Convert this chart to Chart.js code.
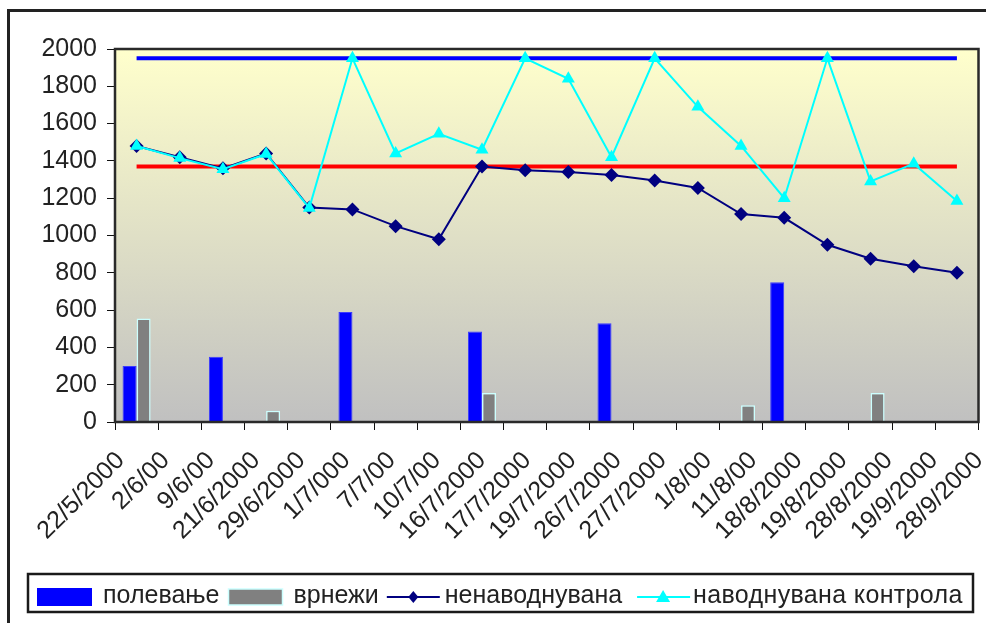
<!DOCTYPE html>
<html><head><meta charset="utf-8">
<script src="https://cdn.jsdelivr.net/npm/chart.js@4.4.0/dist/chart.umd.min.js"></script>
<style>html,body{margin:0;padding:0;background:#fff;overflow:hidden}canvas{display:block}</style>
</head><body>
<canvas id="c" width="986" height="623"></canvas>
<script>
const categories = ['22/5/2000','2/6/00','9/6/00','21/6/2000','29/6/2000','1/7/000','7/7/00','10/7/00','16/7/2000','17/7/2000','19/7/2000','26/7/2000','27/7/2000','1/8/00','11/8/00','18/8/2000','19/8/2000','28/8/2000','19/9/2000','28/9/2000'];
const polevanje = [300,null,350,null,null,590,null,null,485,null,null,530,null,null,null,750,null,null,null,null];
const vrnezhi = [555,null,null,60,null,null,null,null,155,null,null,null,null,null,90,null,null,155,null,null];
const nenavodnuvana = [1480,1420,1360,1440,1150,1140,1050,980,1370,1350,1340,1325,1295,1255,1115,1095,950,875,835,800];
const navodnuvanaKontrola = [1480,1415,1355,1437,1147,1950,1440,1545,1460,1950,1840,1420,1950,1690,1480,1200,1950,1290,1385,1185];
const upperLine = [1950,1950,1950,1950,1950,1950,1950,1950,1950,1950,1950,1950,1950,1950,1950,1950,1950,1950,1950,1950];
const lowerLine = [1370,1370,1370,1370,1370,1370,1370,1370,1370,1370,1370,1370,1370,1370,1370,1370,1370,1370,1370,1370];
const yMin = 0, yMax = 2000, yStep = 200;
const legendLabels = ['полевање','врнежи','ненаводнувана','наводнувана контрола'];

const FONT = '"Liberation Sans", Arial, Helvetica, sans-serif';
const FS = 25;

const framePlugin = {
  id: 'frame',
  beforeDraw(chart) {
    const {ctx, chartArea: a} = chart;
    // spread the rotated category labels slightly, as in the original rendering
    const sx = chart.scales.x;
    const items = sx.getLabelItems(a);
    items.forEach((it, i) => {
      it.options.translation[0] = sx.getPixelForTick(i) - 26.6 + 2.01 * i;
    });
    ctx.save();
    ctx.fillStyle = '#ffffff';
    ctx.fillRect(0, 0, chart.width, chart.height);
    const g = ctx.createLinearGradient(0, a.top, 0, a.bottom);
    g.addColorStop(0, '#ffffcc');
    g.addColorStop(1, '#c0c0c0');
    ctx.fillStyle = g;
    ctx.fillRect(a.left, a.top, a.right - a.left, a.bottom - a.top);
    ctx.strokeStyle = '#222222';
    ctx.lineWidth = 3;
    ctx.beginPath();
    ctx.moveTo(8.5, 623);
    ctx.lineTo(8.5, 10.5);
    ctx.lineTo(986, 10.5);
    ctx.stroke();
    ctx.restore();
  },
  afterDraw(chart) {
    const {ctx, chartArea: a} = chart;
    const ds = chart.data.datasets;
    ctx.save();
    ctx.strokeStyle = '#2a2a2a';
    ctx.lineWidth = 2.5;
    ctx.strokeRect(a.left, a.top, a.right - a.left, a.bottom - a.top);

    // legend box
    ctx.strokeStyle = '#1a1a1a';
    ctx.lineWidth = 2.5;
    ctx.strokeRect(28, 574, 945, 38);
    ctx.font = FS + 'px ' + FONT;
    ctx.textBaseline = 'alphabetic';
    const base = 603;
    const cy = 597;
    let x = 37;
    // polevanje
    ctx.fillStyle = ds[0].backgroundColor;
    ctx.fillRect(x, 588, 55, 18);
    x += 55 + 11;
    ctx.fillStyle = '#222';
    ctx.fillText(legendLabels[0], x, base);
    x += ctx.measureText(legendLabels[0]).width + 9;
    // vrnezhi
    ctx.fillStyle = ds[1].backgroundColor;
    ctx.fillRect(x, 589, 54, 16);
    ctx.strokeStyle = ds[1].borderColor;
    ctx.lineWidth = 1.5;
    ctx.strokeRect(x, 589, 54, 16);
    x += 54 + 11;
    ctx.fillStyle = '#222';
    ctx.fillText(legendLabels[1], x, base);
    x += ctx.measureText(legendLabels[1]).width + 8;
    // nenavodnuvana
    ctx.strokeStyle = ds[2].borderColor;
    ctx.lineWidth = 2;
    ctx.beginPath(); ctx.moveTo(x, cy); ctx.lineTo(x + 53, cy); ctx.stroke();
    ctx.fillStyle = ds[2].borderColor;
    const dx = x + 26.5;
    ctx.beginPath(); ctx.moveTo(dx, cy - 6); ctx.lineTo(dx + 5, cy); ctx.lineTo(dx, cy + 6); ctx.lineTo(dx - 5, cy); ctx.closePath(); ctx.fill();
    x += 53 + 5;
    ctx.fillStyle = '#222';
    ctx.fillText(legendLabels[2], x, base);
    x += ctx.measureText(legendLabels[2]).width + 15;
    // navodnuvana kontrola
    ctx.strokeStyle = ds[3].borderColor;
    ctx.lineWidth = 2;
    ctx.beginPath(); ctx.moveTo(x, cy); ctx.lineTo(x + 53, cy); ctx.stroke();
    ctx.fillStyle = ds[3].borderColor;
    const tx = x + 26;
    ctx.beginPath(); ctx.moveTo(tx, cy - 7); ctx.lineTo(tx + 7, cy + 5); ctx.lineTo(tx - 7, cy + 5); ctx.closePath(); ctx.fill();
    x += 53 + 3;
    ctx.fillStyle = '#222';
    if ('letterSpacing' in ctx) ctx.letterSpacing = '0.35px';
    ctx.fillText(legendLabels[3], x, base);
    ctx.restore();
  }
};

new Chart(document.getElementById('c'), {
  type: 'bar',
  data: {
    labels: categories,
    datasets: [
      {type: 'bar', label: legendLabels[0], data: polevanje, backgroundColor: '#0000ff', borderColor: '#3a3aff', borderWidth: 1, categoryPercentage: 0.65, barPercentage: 1.0, order: 5},
      {type: 'bar', label: legendLabels[1], data: vrnezhi, backgroundColor: '#808080', borderColor: '#ccffff', borderWidth: 1.5, categoryPercentage: 0.65, barPercentage: 1.0, order: 5},
      {type: 'line', label: legendLabels[2], data: nenavodnuvana, borderColor: '#000080', backgroundColor: '#000080', borderWidth: 2, pointStyle: 'rectRot', pointRadius: 7, pointBorderWidth: 0, tension: 0, order: 2},
      {type: 'line', label: legendLabels[3], data: navodnuvanaKontrola, borderColor: '#00ffff', backgroundColor: '#00ffff', borderWidth: 2, pointStyle: 'triangle', pointRadius: 7.5, pointBorderWidth: 0, tension: 0, order: 1},
      {type: 'line', label: 'upper', data: upperLine, borderColor: '#0000ff', borderWidth: 4, pointRadius: 0, order: 3},
      {type: 'line', label: 'lower', data: lowerLine, borderColor: '#ff0000', borderWidth: 4, pointRadius: 0, order: 3}
    ]
  },
  options: {
    responsive: false,
    animation: false,
    devicePixelRatio: 1,
    layout: {padding: {left: 0, top: 49, right: 7, bottom: 0}},
    plugins: {legend: {display: false}, tooltip: {enabled: false}, title: {display: false}},
    scales: {
      x: {
        offset: true,
        grid: {offset: true, drawOnChartArea: false, tickLength: 8, color: '#111', lineWidth: 1},
        border: {display: true, color: '#222', width: 2},
        ticks: {autoSkip: false, minRotation: 45, maxRotation: 45, padding: 16, color: '#222', font: {family: FONT, size: FS}},
        afterFit(s) { s.height = 623 - 422; s.paddingLeft = 0; s.paddingRight = 0; }
      },
      y: {
        min: yMin, max: yMax,
        grid: {drawOnChartArea: false, tickLength: 8, color: '#111', lineWidth: 1},
        border: {display: true, color: '#222', width: 2},
        ticks: {stepSize: yStep, padding: 10, color: '#222', font: {family: FONT, size: FS}, callback: v => String(v)},
        afterFit(s) { s.width = 115; s.paddingTop = 0; s.paddingBottom = 0; }
      }
    }
  },
  plugins: [framePlugin]
});
</script>
</body></html>
